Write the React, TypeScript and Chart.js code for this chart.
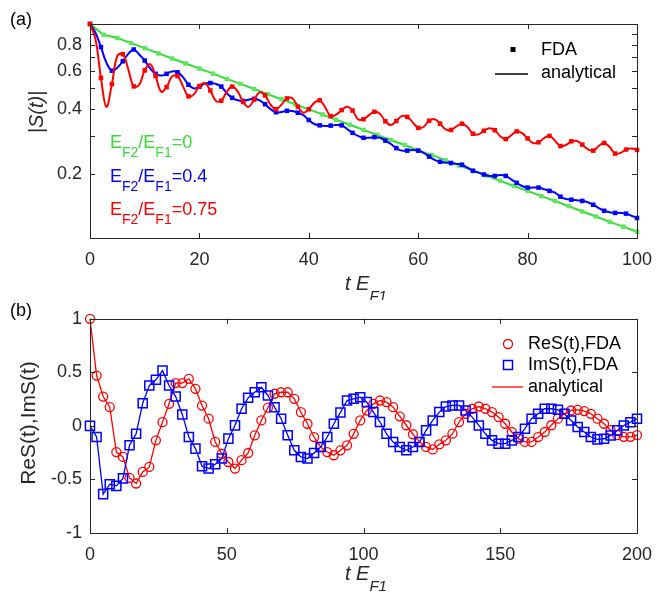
import React, { useEffect, useRef } from "react";
import { Chart, registerables } from "chart.js";

Chart.register(...registerables);

const FONT = "'Liberation Sans', Arial, Helvetica, sans-serif";
const AXIS_COLOR = "#262626";
const GREEN = "#33dd33";
const GREEN_PT = "#5fe55f";
const BLUE = "#0000ff";
const RED = "#ff0000";

// ---------------- panel (a): |S(t)| on a log axis ----------------
const A_STEP = 1; // t spacing of red / blue samples
const RED_A = [
  1.0, 0.85, 0.56, 0.41, 0.524, 0.709, 0.723, 0.614, 0.511, 0.52, 0.607,
  0.649, 0.571, 0.483, 0.507, 0.569, 0.571, 0.511, 0.459, 0.469, 0.513,
  0.529, 0.489, 0.438, 0.438, 0.482, 0.51, 0.484, 0.432, 0.41, 0.443,
  0.479, 0.464, 0.42, 0.4, 0.42, 0.449, 0.45, 0.411, 0.385, 0.4,
  0.428, 0.44, 0.408, 0.371, 0.377, 0.396, 0.41, 0.394, 0.359, 0.359,
  0.375, 0.389, 0.381, 0.351, 0.337, 0.352, 0.371, 0.368, 0.347, 0.327,
  0.331, 0.353, 0.359, 0.342, 0.322, 0.32, 0.332, 0.342, 0.33, 0.307,
  0.305, 0.317, 0.326, 0.319, 0.299, 0.29, 0.302, 0.315, 0.309, 0.292,
  0.278, 0.28, 0.293, 0.3, 0.285, 0.269, 0.272, 0.283, 0.284, 0.273,
  0.26, 0.256, 0.269, 0.278, 0.266, 0.248, 0.25, 0.259, 0.262, 0.258,
];
const BLUE_A = [
  1.0, 0.91, 0.78, 0.66, 0.605, 0.625, 0.67, 0.725, 0.76, 0.72, 0.675,
  0.62, 0.585, 0.574, 0.585, 0.6, 0.595, 0.565, 0.52, 0.5, 0.51,
  0.527, 0.53, 0.525, 0.51, 0.475, 0.452, 0.44, 0.437, 0.443, 0.447,
  0.44, 0.422, 0.4, 0.387, 0.388, 0.393, 0.392, 0.385, 0.375, 0.356,
  0.341, 0.336, 0.334, 0.335, 0.337, 0.336, 0.323, 0.31, 0.3, 0.294,
  0.294, 0.296, 0.294, 0.285, 0.275, 0.263, 0.256, 0.256, 0.258, 0.256,
  0.25, 0.24, 0.232, 0.227, 0.225, 0.224, 0.222, 0.22, 0.213, 0.206,
  0.202, 0.198, 0.195, 0.195, 0.197, 0.195, 0.188, 0.181, 0.175, 0.172,
  0.172, 0.172, 0.169, 0.166, 0.163, 0.156, 0.152, 0.151, 0.15, 0.149,
  0.147, 0.143, 0.138, 0.134, 0.132, 0.131, 0.131, 0.13, 0.127, 0.124,
];
const GREEN_STEP = 2.5;
const GREEN_A = [
  1.0, 0.89, 0.86, 0.814, 0.771, 0.729, 0.69, 0.654, 0.619, 0.586, 0.554,
  0.525, 0.497, 0.47, 0.445, 0.421, 0.399, 0.378, 0.357, 0.338, 0.32,
  0.303, 0.287, 0.272, 0.257, 0.244, 0.231, 0.218, 0.207, 0.196, 0.185,
  0.175, 0.166, 0.157, 0.149, 0.141, 0.133, 0.126, 0.119, 0.113, 0.107,
];
const A_X_TICKS = [0, 20, 40, 60, 80, 100];
const A_Y_TICKS = [0.1, 0.2, 0.3, 0.4, 0.5, 0.6, 0.7, 0.8, 0.9, 1];
const A_Y_LABELED = [0.2, 0.4, 0.6, 0.8];
const A_RATIOS = ["0", "0.4", "0.75"]; // E_F2/E_F1 for green, blue, red

// ---------------- panel (b): Re S(t), Im S(t) ----------------
const B_STEP = 200 / 83;
const RE_B = [
  1.0, 0.47, 0.274, 0.175, -0.244, -0.29, -0.486, -0.538, -0.43, -0.383,
  -0.135, 0.035, 0.206, 0.4, 0.4, 0.44, 0.346, 0.19, 0.067, -0.15,
  -0.26, -0.337, -0.398, -0.32, -0.253, -0.088, 0.051, 0.17, 0.3, 0.314,
  0.314, 0.253, 0.128, 0.02, -0.104, -0.197, -0.244, -0.274, -0.228, -0.181,
  -0.074, 0.051, 0.144, 0.206, 0.237, 0.222, 0.175, 0.089, 0.006, -0.078,
  -0.149, -0.196, -0.22, -0.172, -0.135, -0.073, 0.036, 0.113, 0.16, 0.181,
  0.16, 0.129, 0.082, 0.02, -0.057, -0.119, -0.15, -0.15, -0.104, -0.057,
  0.006, 0.067, 0.113, 0.144, 0.15, 0.138, 0.113, 0.067, 0.02, -0.04,
  -0.087, -0.102, -0.102, -0.087,
];
const IM_B = [
  0.0, -0.104, -0.637, -0.544, -0.56, -0.49, -0.181, -0.073, 0.212, 0.377,
  0.43, 0.516, 0.377, 0.274, 0.107, -0.104, -0.212, -0.377, -0.398, -0.358,
  -0.305, -0.119, 0.005, 0.16, 0.262, 0.314, 0.361, 0.284, 0.175, 0.067,
  -0.088, -0.228, -0.29, -0.305, -0.253, -0.197, -0.104, 0.02, 0.126, 0.237,
  0.253, 0.268, 0.222, 0.129, 0.036, -0.074, -0.151, -0.197, -0.228, -0.197,
  -0.151, -0.042, 0.051, 0.129, 0.181, 0.191, 0.191, 0.144, 0.082, 0.004,
  -0.074, -0.135, -0.166, -0.166, -0.135, -0.104, -0.026, 0.067, 0.113, 0.16,
  0.16, 0.15, 0.113, 0.051, -0.011, -0.057, -0.104, -0.126, -0.12, -0.089,
  -0.042, 0.004, 0.035, 0.067,
];
const B_X_TICKS = [0, 50, 100, 150, 200];
const B_Y_TICKS = [-1, -0.5, 0, 0.5, 1];

// ---------------- helpers ----------------
function frameAndTicks(chart: any, len: number) {
  const { ctx, chartArea: a, scales } = chart;
  const xs = scales.x;
  const ys = scales.y;
  ctx.save();
  ctx.strokeStyle = AXIS_COLOR;
  ctx.lineWidth = 1;
  ctx.beginPath();
  for (const t of xs.ticks) {
    const px = Math.round(xs.getPixelForValue(t.value)) + 0.5;
    ctx.moveTo(px, a.top);
    ctx.lineTo(px, a.top + len);
    ctx.moveTo(px, a.bottom);
    ctx.lineTo(px, a.bottom - len);
  }
  for (const t of ys.ticks) {
    const py = Math.round(ys.getPixelForValue(t.value)) + 0.5;
    ctx.moveTo(a.left, py);
    ctx.lineTo(a.left + len, py);
    ctx.moveTo(a.right, py);
    ctx.lineTo(a.right - len, py);
  }
  ctx.stroke();
  ctx.strokeRect(
    Math.round(a.left) + 0.5,
    Math.round(a.top) + 0.5,
    Math.round(a.right - a.left),
    Math.round(a.bottom - a.top)
  );
  ctx.restore();
}

function drawSub(
  ctx: CanvasRenderingContext2D,
  parts: [string, boolean][],
  x: number,
  y: number,
  main: number,
  sub: number,
  off: number,
  italic: boolean,
  color: string
) {
  ctx.save();
  ctx.fillStyle = color;
  ctx.textBaseline = "alphabetic";
  ctx.textAlign = "left";
  let cx = x;
  for (const [s, isSub] of parts) {
    ctx.font = `${italic ? "italic " : ""}${isSub ? sub : main}px ${FONT}`;
    ctx.fillText(s, cx, isSub ? y + off : y);
    cx += ctx.measureText(s).width;
  }
  ctx.restore();
}

function text(ctx: CanvasRenderingContext2D, s: string, x: number, y: number, size: number, color = "#000", align: CanvasTextAlign = "left", italic = false) {
  ctx.save();
  ctx.font = `${italic ? "italic " : ""}${size}px ${FONT}`;
  ctx.fillStyle = color;
  ctx.textAlign = align;
  ctx.textBaseline = "middle";
  ctx.fillText(s, x, y);
  ctx.restore();
}

function rotText(ctx: CanvasRenderingContext2D, s: string, x: number, y: number, size: number, italic: boolean) {
  ctx.save();
  ctx.translate(x, y);
  ctx.rotate(-Math.PI / 2);
  ctx.font = `${italic ? "italic " : ""}${size}px ${FONT}`;
  ctx.fillStyle = AXIS_COLOR;
  ctx.textAlign = "center";
  ctx.textBaseline = "middle";
  ctx.fillText(s, 0, 0);
  ctx.restore();
}

const tickFont = { size: 18, family: FONT };

function configA(): any {
  const decor = {
    id: "decorA",
    afterDraw(chart: any) {
      const ctx = chart.ctx as CanvasRenderingContext2D;
      frameAndTicks(chart, 5);
      text(ctx, "(a)", 10, 20, 18);
      rotText(ctx, "|S(t)|", 37, 112, 20, true);
      drawSub(ctx, [["t E", false], ["F1", true]], 345, 290, 20, 15, 11, true, AXIS_COLOR);
      const colors = [GREEN, BLUE, RED];
      const baselines = [148, 182, 215];
      A_RATIOS.forEach((r, i) => {
        drawSub(
          ctx,
          [["E", false], ["F2", true], ["/E", false], ["F1", true], ["=" + r, false]],
          110, baselines[i], 18, 14, 9, false, colors[i]
        );
      });
      // legend
      ctx.save();
      ctx.fillStyle = "#000";
      ctx.fillRect(510.5, 47, 5, 5);
      ctx.strokeStyle = "#000";
      ctx.lineWidth = 1.5;
      ctx.beginPath();
      ctx.moveTo(495, 74);
      ctx.lineTo(528, 74);
      ctx.stroke();
      ctx.restore();
      text(ctx, "FDA", 541, 50, 18);
      text(ctx, "analytical", 541, 73, 18);
    },
  };
  const every2 = (c: any) => (c.dataIndex % 2 === 0 ? 3.2 : 0);
  return {
    type: "line",
    data: {
      datasets: [
        {
          label: "E_F2/E_F1=0.75",
          data: RED_A.map((v, i) => ({ x: i * A_STEP, y: v })),
          borderColor: RED,
          backgroundColor: RED,
          borderWidth: 2,
          tension: 0.4,
          pointStyle: "rect",
          pointRadius: every2,
          pointBackgroundColor: RED,
          pointBorderWidth: 0,
          clip: false,
        },
        {
          label: "E_F2/E_F1=0.4",
          data: BLUE_A.map((v, i) => ({ x: i * A_STEP, y: v })),
          borderColor: BLUE,
          backgroundColor: BLUE,
          borderWidth: 2,
          tension: 0.4,
          pointStyle: "rect",
          pointRadius: every2,
          pointBackgroundColor: BLUE,
          pointBorderWidth: 0,
          clip: false,
        },
        {
          label: "E_F2/E_F1=0",
          data: GREEN_A.map((v, i) => ({ x: i * GREEN_STEP, y: v })),
          borderColor: GREEN,
          backgroundColor: GREEN_PT,
          borderWidth: 2,
          tension: 0,
          pointStyle: "rect",
          pointRadius: 3.2,
          pointBackgroundColor: GREEN_PT,
          pointBorderWidth: 0,
          clip: false,
        },
      ],
    },
    options: {
      animation: false,
      responsive: false,
      events: [],
      layout: { padding: { top: 24, right: 29, left: 0, bottom: 0 } },
      plugins: { legend: { display: false }, tooltip: { enabled: false } },
      scales: {
        x: {
          type: "linear",
          min: 0,
          max: 100,
          afterFit: (s: any) => { s.height = 62; },
          afterBuildTicks: (s: any) => { s.ticks = A_X_TICKS.map((v) => ({ value: v })); },
          ticks: { font: tickFont, color: AXIS_COLOR, padding: 11, maxRotation: 0, autoSkip: false },
          grid: { display: false, drawTicks: false },
          border: { display: false },
        },
        y: {
          type: "logarithmic",
          min: 0.1,
          max: 1,
          afterFit: (s: any) => { s.width = 90; },
          afterBuildTicks: (s: any) => { s.ticks = A_Y_TICKS.map((v) => ({ value: v })); },
          ticks: {
            font: tickFont,
            color: AXIS_COLOR,
            padding: 8,
            autoSkip: false,
            callback: (v: any) => (A_Y_LABELED.includes(v) ? String(v) : ""),
          },
          grid: { display: false, drawTicks: false },
          border: { display: false },
        },
      },
    },
    plugins: [decor],
  };
}

function configB(): any {
  const decor = {
    id: "decorB",
    afterDraw(chart: any) {
      const ctx = chart.ctx as CanvasRenderingContext2D;
      frameAndTicks(chart, 5);
      text(ctx, "(b)", 10, 11, 18);
      rotText(ctx, "ReS(t),ImS(t)", 29, 123, 21, false);
      drawSub(ctx, [["t E", false], ["F1", true]], 345, 280, 20, 15, 11, true, AXIS_COLOR);
      // legend
      ctx.save();
      ctx.lineWidth = 1.3;
      ctx.strokeStyle = RED;
      ctx.beginPath();
      ctx.arc(508, 44, 4.5, 0, Math.PI * 2);
      ctx.stroke();
      ctx.strokeStyle = BLUE;
      ctx.lineWidth = 1.5;
      ctx.strokeRect(503.5, 60.5, 9, 9);
      ctx.strokeStyle = RED;
      ctx.lineWidth = 1.3;
      ctx.beginPath();
      ctx.moveTo(492, 87);
      ctx.lineTo(523, 87);
      ctx.stroke();
      ctx.restore();
      text(ctx, "ReS(t),FDA", 528, 44, 18);
      text(ctx, "ImS(t),FDA", 528, 65, 18);
      text(ctx, "analytical", 528, 87, 18);
    },
  };
  return {
    type: "line",
    data: {
      datasets: [
        {
          label: "ImS(t),FDA",
          data: IM_B.map((v, i) => ({ x: i * B_STEP, y: v })),
          borderColor: BLUE,
          backgroundColor: "rgba(0,0,0,0)",
          borderWidth: 1.3,
          tension: 0,
          pointStyle: "rect",
          pointRadius: 6.4,
          pointBorderColor: BLUE,
          pointBackgroundColor: "rgba(0,0,0,0)",
          pointBorderWidth: 1.5,
          clip: false,
        },
        {
          label: "ReS(t),FDA",
          data: RE_B.map((v, i) => ({ x: i * B_STEP, y: v })),
          borderColor: RED,
          backgroundColor: "rgba(0,0,0,0)",
          borderWidth: 1.3,
          tension: 0,
          pointStyle: "circle",
          pointRadius: 4.5,
          pointBorderColor: RED,
          pointBackgroundColor: "rgba(0,0,0,0)",
          pointBorderWidth: 1.3,
          clip: false,
        },
      ],
    },
    options: {
      animation: false,
      responsive: false,
      events: [],
      layout: { padding: { top: 18, right: 29, left: 0, bottom: 0 } },
      plugins: { legend: { display: false }, tooltip: { enabled: false } },
      scales: {
        x: {
          type: "linear",
          min: 0,
          max: 200,
          afterFit: (s: any) => { s.height = 64; },
          afterBuildTicks: (s: any) => { s.ticks = B_X_TICKS.map((v) => ({ value: v })); },
          ticks: { font: tickFont, color: AXIS_COLOR, padding: 11, maxRotation: 0, autoSkip: false },
          grid: { display: false, drawTicks: false },
          border: { display: false },
        },
        y: {
          type: "linear",
          min: -1,
          max: 1,
          afterFit: (s: any) => { s.width = 90; },
          afterBuildTicks: (s: any) => { s.ticks = B_Y_TICKS.map((v) => ({ value: v })); },
          ticks: {
            font: tickFont,
            color: AXIS_COLOR,
            padding: 8,
            autoSkip: false,
            callback: (v: any) => String(v),
          },
          grid: { display: false, drawTicks: false },
          border: { display: false },
        },
      },
    },
    plugins: [decor],
  };
}

export default function App() {
  const aRef = useRef<HTMLCanvasElement>(null);
  const bRef = useRef<HTMLCanvasElement>(null);
  useEffect(() => {
    Chart.defaults.font.family = FONT;
    const ca = new Chart(aRef.current as HTMLCanvasElement, configA());
    const cb = new Chart(bRef.current as HTMLCanvasElement, configB());
    return () => {
      ca.destroy();
      cb.destroy();
    };
  }, []);
  return (
    <div style={{ position: "absolute", left: 0, top: 0, width: 666, height: 597, background: "#fff" }}>
      <canvas ref={aRef} width={666} height={300} style={{ position: "absolute", left: 0, top: 0, width: 666, height: 300 }} />
      <canvas ref={bRef} width={666} height={297} style={{ position: "absolute", left: 0, top: 300, width: 666, height: 297 }} />
    </div>
  );
}
